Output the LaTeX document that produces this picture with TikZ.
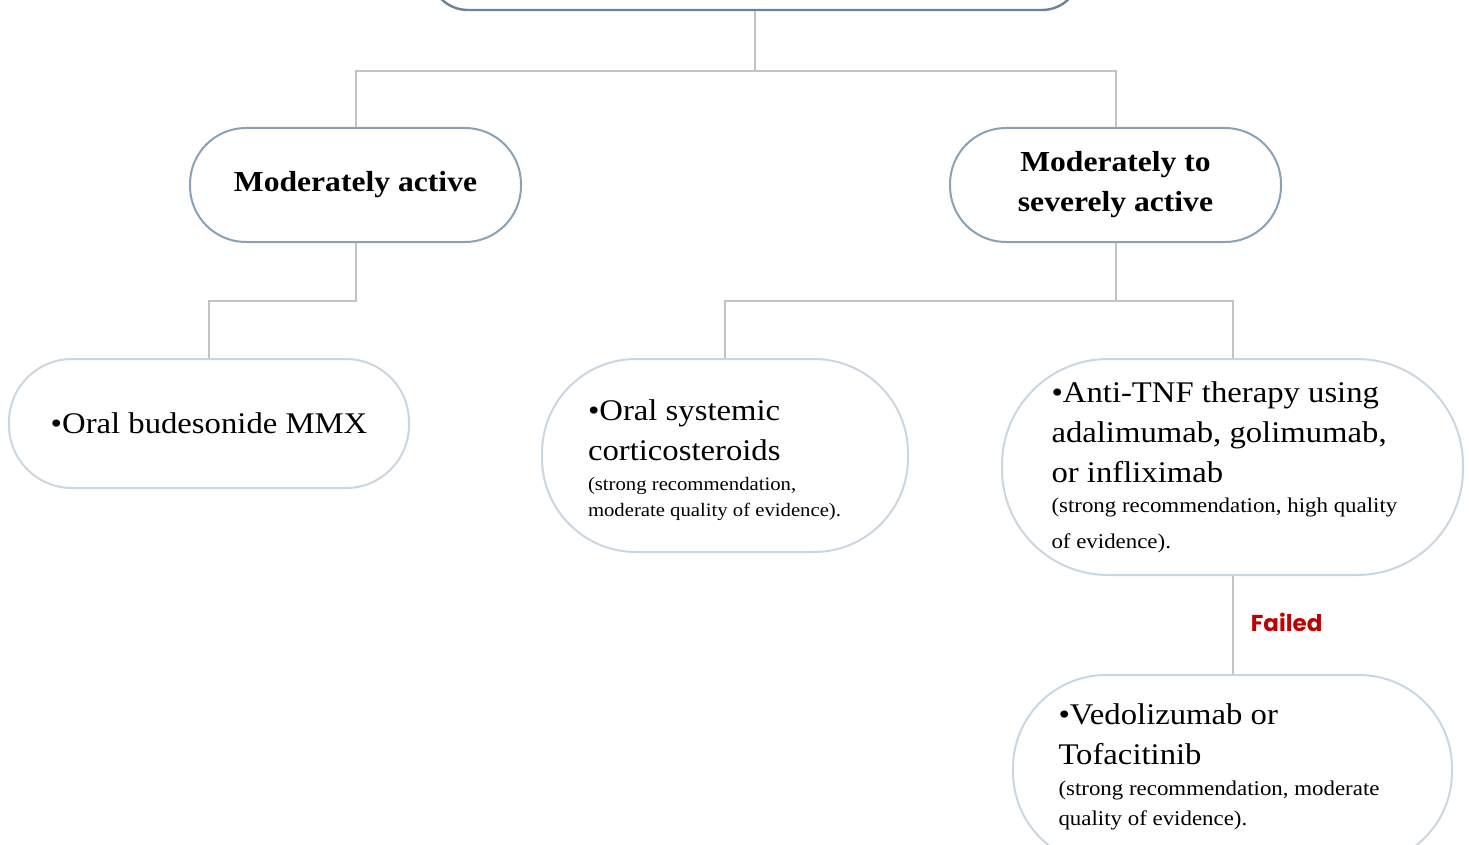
\documentclass[tikz,border=0pt]{standalone}
\usepackage{fontspec}
\setmainfont{Liberation Serif}[FakeStretch=1.09]
\newfontfamily\labelfont{Poppins}
\definecolor{topedge}{HTML}{6E8297}
\definecolor{lvlone}{HTML}{8AA1B6}
\definecolor{lvltwo}{HTML}{CAD7E1}
\definecolor{connc}{HTML}{C3C3C3}
\definecolor{failred}{HTML}{C00000}
\newcommand{\bigtxt}{\fontsize{30}{40}\selectfont}
\begin{document}
\begin{tikzpicture}[x=1pt,y=-1pt,
  box/.style={draw, rectangle, line width=2pt, fill=white, inner sep=0pt},
  topbox/.style={box, draw=topedge, line width=2.4pt, rounded corners=38pt},
  lvlbox/.style={box, draw=lvlone, align=center,
    font=\fontsize{29}{40}\selectfont\bfseries},
  leafbox/.style={box, draw=lvltwo, align=flush left},
  conn/.style={draw=connc, line width=2pt},
  faillabel/.style={text=failred, font=\labelfont\bfseries\fontsize{23}{28}\selectfont}]
\useasboundingbox (0,0) rectangle (1469,845);
\clip (0,0) rectangle (1469,845);

% root, top part outside the frame
\node[topbox, minimum width=650pt, minimum height=80pt] (root) at (755,-30) {};

% activity levels
\node[lvlbox, minimum width=331pt, minimum height=114pt, rounded corners=56pt]
  (mod) at (355.5,185) {Moderately active};
\node[lvlbox, minimum width=331pt, minimum height=114pt, rounded corners=56pt]
  (sev) at (1115.5,185) {Moderately to\\severely active};

% treatments
\node[box, draw=lvltwo, minimum width=400pt, minimum height=129pt, rounded corners=63pt]
  (bud) at (209,423.5) {\bigtxt •Oral budesonide MMX};
\node[leafbox, minimum width=366pt, minimum height=193pt, rounded corners=94pt,
  text width=274pt] (cort) at (725,455.5)
  {\par\vspace*{-9pt}{\bigtxt •Oral systemic\\corticosteroids\par}\vspace{4pt}
   {\fontsize{19}{26}\selectfont (strong recommendation,\\moderate quality of evidence).\par}\vspace{-8pt}};
\node[leafbox, minimum width=461pt, minimum height=216pt, rounded corners=106pt,
  text width=362pt] (tnf) at (1232.5,467)
  {{\bigtxt •Anti-TNF therapy using\\adalimumab, golimumab,\\or infliximab\par}\vspace{-6pt}
   {\fontsize{21}{36}\selectfont (strong recommendation, high quality\\of evidence).\par}\vspace{-15pt}};
\node[leafbox, minimum width=439pt, minimum height=190pt, rounded corners=93pt,
  text width=348pt] (ved) at (1232.5,770)
  {\par\vspace*{-26pt}{\bigtxt •Vedolizumab or\\Tofacitinib\par}\vspace{1pt}
   {\fontsize{21}{30}\selectfont (strong recommendation, moderate\\quality of evidence).\par}\vspace{-6pt}};

% connectors
\draw[conn] (root.south) -- ++(0,60) -| (mod.north);
\draw[conn] (root.south) -- ++(0,60) -| (sev.north);
\draw[conn] (mod.south) -- ++(0,58) -| (bud.north);
\draw[conn] (sev.south) -- ++(0,58) -| (cort.north);
\draw[conn] (sev.south) -- ++(0,58) -| (tnf.north);
\draw[conn] (tnf.south) -- node[faillabel, right=14pt, yshift=3pt] {Failed} (ved.north);
\end{tikzpicture}
\end{document}
